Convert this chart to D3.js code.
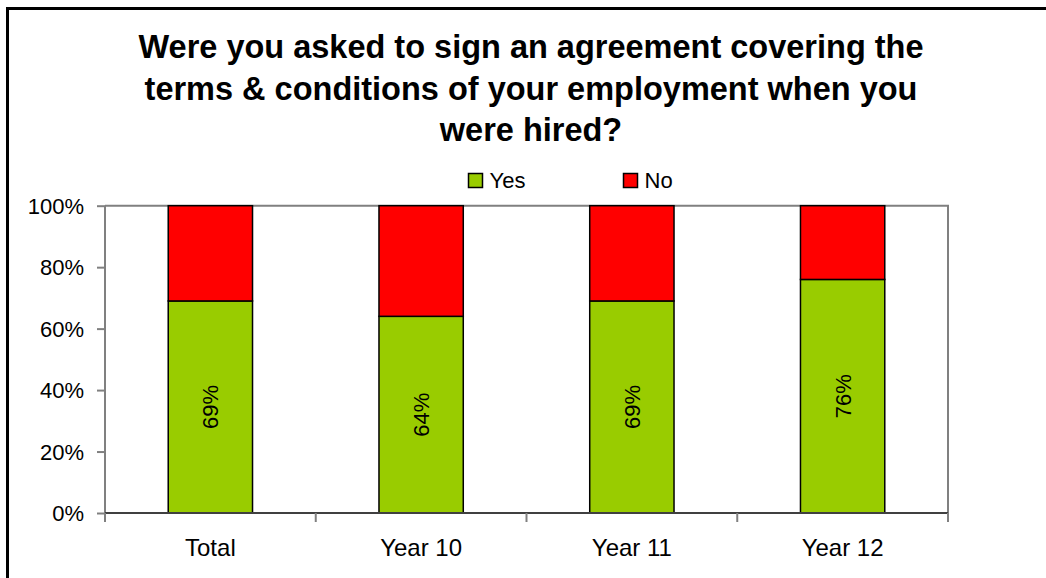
<!DOCTYPE html>
<html><head><meta charset="utf-8">
<script src="https://cdn.jsdelivr.net/npm/d3@7"></script>
<style>body{margin:0;background:#fff}svg{display:block}text{font-family:"Liberation Sans",Arial,sans-serif}</style>
</head><body><svg id="c" width="1046" height="578"></svg>
<script>
const categories = ["Total", "Year 10", "Year 11", "Year 12"];
const yesValues = [69, 64, 69, 76];
const noValues = [31, 36, 31, 24];
const seriesNames = ["Yes", "No"];
const yTicks = [0, 20, 40, 60, 80, 100];
const titleLines = ["Were you asked to sign an agreement covering the", "terms & conditions of your employment when you", "were hired?"];
const colors = {Yes: "#99CC00", No: "#FF0000"};

const svg = d3.select("#c");
// outer frame (extends beyond the right/bottom edges)
svg.append("rect").attr("x", 7.5).attr("y", 8.5).attr("width", 1100).attr("height", 700)
  .attr("fill", "#fff").attr("stroke", "#000").attr("stroke-width", 3);

const L = 105, R = 948, T = 205.7, B = 513;
const x = d3.scaleBand().domain(categories).range([L, R]).paddingInner(0.6).paddingOuter(0.3);
const y = d3.scaleLinear().domain([0, 100]).range([B, T]);

// title
svg.append("g").selectAll("text").data(titleLines).join("text")
  .attr("x", 531).attr("y", (d, i) => 58 + i * 41.5).attr("text-anchor", "middle")
  .attr("font-size", 32.5).attr("font-weight", "bold").text(d => d);

// plot border (top, right)
svg.append("path").attr("d", `M${L},${T}H${R}V${B}`).attr("fill", "none").attr("stroke", "#808080").attr("stroke-width", 2);

// stacked data
const rows = categories.map((c, i) => ({cat: c, Yes: yesValues[i], No: noValues[i]}));
const stack = d3.stack().keys(seriesNames)(rows);
svg.append("g").selectAll("g").data(stack).join("g").attr("fill", d => colors[d.key])
  .selectAll("rect").data(d => d).join("rect")
  .attr("x", d => x(d.data.cat)).attr("width", x.bandwidth())
  .attr("y", d => y(d[1])).attr("height", d => y(d[0]) - y(d[1]))
  .attr("stroke", "#000").attr("stroke-width", 1.5);

// labels on Yes segments
svg.append("g").selectAll("text").data(stack[0]).join("text")
  .attr("transform", d => `translate(${x(d.data.cat) + x.bandwidth() / 2 + 8},${(y(d[0]) + y(d[1])) / 2}) rotate(-90)`)
  .attr("text-anchor", "middle").attr("font-size", 22).text(d => d.data.Yes + "%");

// y axis
const yAxis = svg.append("g").attr("transform", `translate(${L},0)`)
  .call(d3.axisLeft(y).tickValues(yTicks).tickSize(8).tickPadding(13).tickFormat(d => d + "%"));
yAxis.select(".domain").attr("stroke", "#808080").attr("stroke-width", 2).attr("d", `M0,${T}V${B}`);
yAxis.selectAll(".tick line").attr("stroke", "#808080").attr("stroke-width", 2);
yAxis.selectAll(".tick text").attr("font-size", 22).attr("fill", "#000").attr("font-family", "Liberation Sans, Arial, sans-serif").attr("dy", "0.35em");

// x axis with boundary ticks
const xAxis = svg.append("g").attr("transform", `translate(0,${B})`);
xAxis.append("line").attr("x1", L).attr("x2", R).attr("stroke", "#404040").attr("stroke-width", 2);
const step = (R - L) / categories.length;
xAxis.selectAll(".bt").data(d3.range(categories.length + 1)).join("line")
  .attr("x1", i => L + i * step).attr("x2", i => L + i * step).attr("y1", 0).attr("y2", 9)
  .attr("stroke", "#808080").attr("stroke-width", 2);
xAxis.selectAll("text").data(categories).join("text")
  .attr("x", d => x(d) + x.bandwidth() / 2).attr("y", 43).attr("text-anchor", "middle")
  .attr("font-size", 24).text(d => d);

// legend
const leg = svg.append("g").selectAll("g").data(seriesNames).join("g")
  .attr("transform", (d, i) => `translate(${468.5 + i * 155},173.5)`);
leg.append("rect").attr("width", 14).attr("height", 14).attr("fill", d => colors[d]).attr("stroke", "#000").attr("stroke-width", 1.5);
leg.append("text").attr("x", 21).attr("y", 7).attr("dy", "0.35em").attr("font-size", 22).text(d => d);
</script></body></html>
